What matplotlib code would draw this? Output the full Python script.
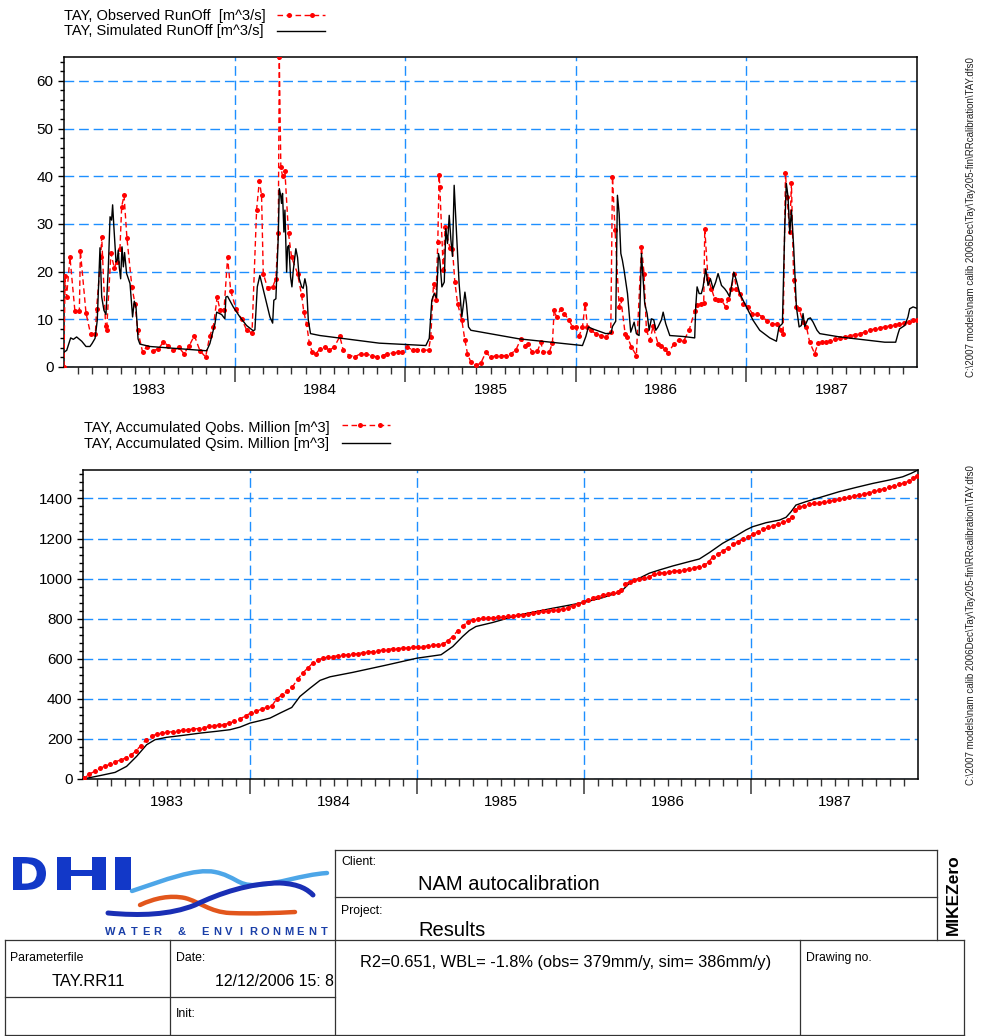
import numpy as np
import matplotlib
matplotlib.use('Agg')
import matplotlib.pyplot as plt
from matplotlib.ticker import FixedLocator, MultipleLocator, NullFormatter
from matplotlib.textpath import TextPath
from matplotlib.patches import PathPatch
from matplotlib.font_manager import FontProperties
from matplotlib.path import Path
from matplotlib.transforms import Affine2D, ScaledTranslation

plt.rcParams['font.family'] = ['Liberation Sans', 'DejaVu Sans']

# =============================================
# 1. Data (decimal years)
# =============================================
years = [1983, 1984, 1985, 1986, 1987]

# observed runoff [m^3/s]
obs_t = [1983.000, 1983.006, 1983.015, 1983.035, 1983.064, 1983.090, 1983.096, 1983.129, 1983.156, 1983.184,
         1983.191, 1983.215, 1983.221, 1983.244, 1983.250, 1983.275, 1983.295, 1983.309, 1983.328, 1983.338,
         1983.352, 1983.369, 1983.398, 1983.416, 1983.432, 1983.461, 1983.484, 1983.520, 1983.553, 1983.582,
         1983.611, 1983.641, 1983.674, 1983.703, 1983.732, 1983.764, 1983.797, 1983.830, 1983.855, 1983.875,
         1983.898, 1983.914, 1983.938, 1983.959, 1983.977, 1984.008, 1984.041, 1984.070, 1984.102, 1984.129,
         1984.145, 1984.158, 1984.168, 1984.193, 1984.223, 1984.242, 1984.256, 1984.262, 1984.271, 1984.281,
         1984.295, 1984.316, 1984.334, 1984.369, 1984.393, 1984.406, 1984.422, 1984.438, 1984.455, 1984.477,
         1984.500, 1984.529, 1984.555, 1984.584, 1984.617, 1984.637, 1984.672, 1984.707, 1984.740, 1984.770,
         1984.805, 1984.834, 1984.867, 1984.896, 1984.926, 1984.955, 1984.984, 1985.008, 1985.043, 1985.072,
         1985.102, 1985.137, 1985.150, 1985.166, 1985.180, 1985.191, 1985.199, 1985.203, 1985.223, 1985.234,
         1985.262, 1985.277, 1985.291, 1985.307, 1985.332, 1985.350, 1985.365, 1985.385, 1985.414, 1985.443,
         1985.473, 1985.502, 1985.531, 1985.561, 1985.590, 1985.619, 1985.648, 1985.678, 1985.703, 1985.717,
         1985.746, 1985.775, 1985.795, 1985.809, 1985.844, 1985.863, 1985.873, 1985.887, 1985.912, 1985.932,
         1985.961, 1985.980, 1986.000, 1986.020, 1986.039, 1986.055, 1986.068, 1986.088, 1986.117, 1986.146,
         1986.176, 1986.205, 1986.215, 1986.230, 1986.254, 1986.264, 1986.289, 1986.303, 1986.326, 1986.355,
         1986.385, 1986.400, 1986.414, 1986.434, 1986.453, 1986.482, 1986.502, 1986.521, 1986.541, 1986.574,
         1986.605, 1986.633, 1986.664, 1986.697, 1986.711, 1986.736, 1986.750, 1986.756, 1986.775, 1986.795,
         1986.814, 1986.834, 1986.854, 1986.879, 1986.893, 1986.912, 1986.928, 1986.941, 1986.961, 1986.980,
         1987.010, 1987.035, 1987.063, 1987.094, 1987.123, 1987.152, 1987.182, 1987.205, 1987.215, 1987.229,
         1987.238, 1987.254, 1987.264, 1987.277, 1987.293, 1987.309, 1987.332, 1987.352, 1987.371, 1987.400,
         1987.420, 1987.445, 1987.465, 1987.492, 1987.521, 1987.547, 1987.580, 1987.605, 1987.635, 1987.664,
         1987.693, 1987.723, 1987.752, 1987.781, 1987.811, 1987.840, 1987.869, 1987.895, 1987.922, 1987.953,
         1987.977, 1988.000]
obs_q = [0.0, 19.0, 14.7, 23.0, 11.7, 11.7, 24.3, 11.3, 6.9, 6.9,
         12.2, 23.0, 27.3, 8.5, 7.8, 23.8, 20.8, 22.0, 24.8, 33.6,
         36.0, 27.0, 16.8, 13.3, 7.7, 3.1, 4.2, 3.4, 3.8, 5.2,
         4.5, 3.5, 4.1, 2.8, 4.3, 6.6, 3.4, 2.1, 6.6, 8.4,
         14.7, 12.0, 12.0, 23.0, 16.0, 12.2, 10.1, 7.8, 7.1, 33.0,
         39.0, 36.0, 19.6, 16.6, 16.8, 18.5, 28.0, 65.0, 42.0, 40.0,
         41.0, 28.0, 23.0, 19.6, 15.0, 11.5, 9.0, 5.0, 3.1, 2.8,
         3.8, 4.2, 3.5, 4.2, 6.4, 3.5, 2.4, 2.2, 2.8, 2.7,
         2.4, 2.1, 2.4, 2.8, 2.9, 3.1, 3.1, 4.2, 3.6, 3.6,
         3.6, 3.5, 6.3, 17.5, 14.0, 26.2, 40.2, 37.8, 20.3, 29.4,
         25.0, 24.8, 17.8, 13.3, 9.8, 5.6, 2.8, 1.0, 0.35, 0.8,
         3.1, 2.0, 2.4, 2.4, 2.4, 2.8, 3.5, 5.9, 4.5, 4.8,
         3.1, 3.3, 5.2, 3.1, 3.1, 5.0, 11.9, 10.5, 12.2, 11.2,
         9.8, 8.4, 8.3, 6.6, 8.4, 13.3, 8.4, 7.7, 7.0, 6.6,
         6.3, 7.3, 39.9, 28.7, 12.6, 14.3, 7.0, 6.3, 4.2, 2.4,
         25.2, 19.6, 7.7, 5.6, 8.5, 4.9, 4.5, 3.8, 2.9, 4.8,
         5.7, 5.5, 7.7, 11.7, 12.9, 13.3, 13.5, 29.0, 18.5, 16.4,
         14.3, 14.0, 14.0, 12.6, 14.3, 16.4, 19.6, 16.4, 15.4, 13.3,
         12.6, 11.2, 11.2, 10.5, 9.6, 9.0, 9.0, 7.7, 7.0, 40.6,
         35.7, 28.3, 38.5, 18.2, 12.6, 12.2, 9.4, 8.4, 5.2, 2.8,
         5.0, 5.2, 5.2, 5.5, 5.8, 6.0, 6.3, 6.5, 6.8, 7.0,
         7.3, 7.7, 8.0, 8.2, 8.4, 8.6, 8.8, 9.0, 9.2, 9.4,
         9.8, 9.8]

# simulated runoff [m^3/s]
sim_t = [1983.000, 1983.016, 1983.039, 1983.055, 1983.074, 1983.104, 1983.129, 1983.152, 1983.164, 1983.182,
         1983.195, 1983.211, 1983.221, 1983.234, 1983.246, 1983.260, 1983.270, 1983.279, 1983.285, 1983.293,
         1983.305, 1983.312, 1983.318, 1983.324, 1983.332, 1983.340, 1983.348, 1983.355, 1983.367, 1983.387,
         1983.402, 1983.412, 1983.422, 1983.434, 1983.445, 1983.504, 1983.836, 1983.855, 1983.885, 1983.895,
         1983.924, 1983.943, 1983.949, 1983.959, 1983.992, 1984.031, 1984.070, 1984.109, 1984.119, 1984.133,
         1984.148, 1984.164, 1984.188, 1984.207, 1984.223, 1984.230, 1984.242, 1984.256, 1984.262, 1984.270,
         1984.275, 1984.281, 1984.289, 1984.295, 1984.305, 1984.311, 1984.318, 1984.328, 1984.336, 1984.344,
         1984.359, 1984.369, 1984.379, 1984.393, 1984.402, 1984.412, 1984.422, 1984.432, 1984.445, 1984.500,
         1984.848, 1985.121, 1985.141, 1985.156, 1985.170, 1985.184, 1985.195, 1985.203, 1985.215, 1985.229,
         1985.238, 1985.248, 1985.258, 1985.268, 1985.277, 1985.287, 1985.301, 1985.316, 1985.332, 1985.350,
         1985.359, 1985.371, 1985.385, 1985.668, 1986.039, 1986.059, 1986.074, 1986.098, 1986.176, 1986.207,
         1986.215, 1986.234, 1986.244, 1986.254, 1986.264, 1986.273, 1986.283, 1986.303, 1986.322, 1986.342,
         1986.355, 1986.371, 1986.385, 1986.404, 1986.418, 1986.430, 1986.443, 1986.457, 1986.469, 1986.482,
         1986.502, 1986.512, 1986.527, 1986.551, 1986.629, 1986.697, 1986.703, 1986.711, 1986.723, 1986.736,
         1986.746, 1986.762, 1986.775, 1986.789, 1986.805, 1986.820, 1986.834, 1986.854, 1986.873, 1986.887,
         1986.902, 1986.926, 1986.941, 1986.961, 1987.000, 1987.039, 1987.078, 1987.137, 1987.176, 1987.191,
         1987.211, 1987.225, 1987.234, 1987.244, 1987.254, 1987.264, 1987.277, 1987.293, 1987.309, 1987.322,
         1987.332, 1987.342, 1987.361, 1987.375, 1987.391, 1987.414, 1987.430, 1987.547, 1987.811, 1987.875,
         1987.889, 1987.898, 1987.928, 1987.947, 1987.957, 1987.977, 1988.000]
sim_q = [3.1, 3.5, 6.1, 5.8, 6.3, 5.4, 4.3, 4.3, 4.9, 6.0,
         9.8, 25.0, 14.7, 11.9, 11.0, 21.0, 31.5, 30.8, 34.0, 29.0,
         22.0, 22.4, 24.5, 21.0, 18.5, 25.2, 21.0, 24.0, 19.6, 17.5,
         10.5, 13.8, 12.6, 5.9, 4.8, 4.3, 3.4, 4.9, 9.1, 11.5,
         11.0, 10.1, 14.7, 14.8, 12.6, 10.5, 8.7, 7.6, 7.8, 16.8,
         19.2, 16.8, 13.3, 10.5, 9.2, 14.0, 14.3, 27.3, 37.4, 36.0,
         34.3, 36.4, 28.3, 32.9, 19.9, 25.2, 25.5, 18.9, 16.8, 20.3,
         24.8, 23.0, 18.5, 16.8, 16.5, 18.5, 16.8, 9.8, 7.0, 6.6,
         5.0, 4.5, 6.0, 14.0, 15.4, 14.5, 23.8, 22.4, 16.8, 17.8,
         29.0, 25.9, 31.8, 26.6, 23.2, 38.1, 27.9, 17.5, 10.5, 15.7,
         13.3, 8.4, 7.7, 5.9, 4.5, 6.4, 8.4, 8.0, 7.0, 7.1,
         8.5, 9.6, 36.0, 32.2, 23.8, 22.4, 20.3, 15.4, 7.3, 9.4,
         7.0, 6.6, 23.8, 13.3, 11.2, 7.7, 10.1, 9.9, 7.7, 8.4,
         9.9, 11.5, 9.1, 6.6, 6.4, 6.1, 12.6, 16.8, 15.4, 15.4,
         16.8, 20.6, 17.1, 18.5, 16.4, 17.8, 19.6, 17.1, 16.4, 15.7,
         14.7, 19.9, 18.2, 15.4, 12.6, 9.8, 7.7, 6.1, 5.4, 8.4,
         9.1, 29.4, 38.5, 35.7, 28.0, 32.9, 25.2, 12.6, 8.4, 8.7,
         11.2, 8.5, 10.1, 10.3, 9.4, 7.7, 7.0, 6.3, 5.2, 5.2,
         7.0, 8.0, 8.7, 10.5, 12.2, 12.6, 12.3]

# accumulated observed volume [million m^3]
acc_obs_t = [1983.000, 1983.008, 1983.038, 1983.070, 1983.102, 1983.134, 1983.162, 1983.194, 1983.226, 1983.257,
             1983.287, 1983.315, 1983.345, 1983.375, 1983.411, 1983.441, 1983.473, 1983.505, 1983.537, 1983.567,
             1983.597, 1983.631, 1983.661, 1983.693, 1983.725, 1983.756, 1983.786, 1983.816, 1983.844, 1983.876,
             1983.906, 1983.940, 1983.974, 1984.004, 1984.036, 1984.070, 1984.100, 1984.130, 1984.160, 1984.190,
             1984.224, 1984.253, 1984.285, 1984.315, 1984.345, 1984.375, 1984.409, 1984.435, 1984.465, 1984.495,
             1984.525, 1984.555, 1984.585, 1984.615, 1984.645, 1984.675, 1984.705, 1984.735, 1984.764, 1984.794,
             1984.824, 1984.854, 1984.884, 1984.914, 1984.944, 1984.974, 1985.004, 1985.034, 1985.064, 1985.094,
             1985.124, 1985.154, 1985.184, 1985.214, 1985.244, 1985.273, 1985.303, 1985.333, 1985.363, 1985.393,
             1985.423, 1985.453, 1985.483, 1985.513, 1985.543, 1985.573, 1985.603, 1985.633, 1985.663, 1985.693,
             1985.723, 1985.753, 1985.782, 1985.812, 1985.842, 1985.872, 1985.902, 1985.932, 1985.962, 1985.992,
             1986.022, 1986.052, 1986.082, 1986.112, 1986.142, 1986.172, 1986.202, 1986.222, 1986.248, 1986.275,
             1986.301, 1986.331, 1986.361, 1986.391, 1986.421, 1986.451, 1986.481, 1986.511, 1986.541, 1986.571,
             1986.601, 1986.631, 1986.661, 1986.691, 1986.721, 1986.747, 1986.774, 1986.804, 1986.834, 1986.864,
             1986.894, 1986.924, 1986.954, 1986.984, 1987.014, 1987.044, 1987.074, 1987.104, 1987.134, 1987.164,
             1987.194, 1987.224, 1987.246, 1987.265, 1987.289, 1987.319, 1987.349, 1987.379, 1987.409, 1987.439,
             1987.469, 1987.499, 1987.529, 1987.559, 1987.589, 1987.619, 1987.649, 1987.679, 1987.709, 1987.739,
             1987.768, 1987.798, 1987.828, 1987.858, 1987.888, 1987.918, 1987.948, 1987.972, 1987.992]
acc_obs_v = [0, 3, 25, 38, 55, 63, 75, 85, 96, 105,
             120, 138, 166, 193, 213, 224, 229, 233, 236, 239,
             243, 246, 249, 252, 257, 262, 266, 269, 271, 279,
             287, 299, 316, 329, 337, 349, 357, 365, 399, 420,
             437, 458, 498, 528, 553, 578, 595, 603, 608, 611,
             615, 618, 620, 623, 626, 630, 633, 636, 640, 643,
             646, 650, 651, 653, 654, 658, 659, 661, 664, 668,
             669, 673, 689, 711, 741, 764, 782, 794, 799, 801,
             802, 804, 806, 807, 811, 814, 817, 819, 821, 826,
             831, 836, 839, 842, 844, 849, 855, 864, 874, 884,
             894, 904, 910, 917, 924, 929, 935, 943, 973, 985,
             993, 997, 1002, 1010, 1022, 1027, 1030, 1033, 1037, 1040,
             1043, 1048, 1055, 1060, 1066, 1085, 1110, 1123, 1140, 1154,
             1171, 1184, 1196, 1206, 1223, 1234, 1246, 1256, 1264, 1272,
             1281, 1292, 1309, 1342, 1355, 1364, 1370, 1375, 1379, 1382,
             1385, 1390, 1395, 1400, 1405, 1412, 1417, 1422, 1429, 1435,
             1442, 1449, 1455, 1462, 1470, 1478, 1487, 1500, 1512]

# accumulated simulated volume [million m^3]
acc_sim_t = [1983.000, 1983.102, 1983.192, 1983.261, 1983.321, 1983.381, 1983.431, 1983.501, 1983.601, 1983.701,
             1983.800, 1983.880, 1983.940, 1984.000, 1984.060, 1984.120, 1984.180, 1984.250, 1984.299, 1984.359,
             1984.419, 1984.479, 1984.615, 1984.814, 1985.000, 1985.144, 1985.214, 1985.273, 1985.313, 1985.353,
             1985.453, 1985.613, 1985.812, 1985.992, 1986.112, 1986.222, 1986.242, 1986.282, 1986.331, 1986.391,
             1986.451, 1986.531, 1986.631, 1986.691, 1986.751, 1986.830, 1986.910, 1986.970, 1987.010, 1987.090,
             1987.170, 1987.210, 1987.240, 1987.269, 1987.329, 1987.429, 1987.529, 1987.629, 1987.729, 1987.828,
             1987.908, 1987.958, 1988.000]
acc_sim_v = [0, 17, 33, 63, 113, 171, 196, 208, 218, 229,
             238, 246, 259, 279, 291, 304, 329, 357, 412, 453,
             492, 510, 532, 568, 603, 620, 661, 711, 741, 761,
             781, 819, 852, 880, 905, 935, 952, 985, 1002, 1027,
             1043, 1063, 1085, 1098, 1130, 1176, 1213, 1243, 1259, 1279,
             1292, 1306, 1334, 1367, 1384, 1409, 1434, 1455, 1475, 1492,
             1508, 1525, 1542]

path_text = r"C:\2007 models\nam calib 2006Dec\Tay\Tay205-fin\RRcalibration\TAY.dfs0"
stats_text = "R2=0.651, WBL= -1.8% (obs= 379mm/y, sim= 386mm/y)"

# =============================================
# 2. Figure + pixel overlay
# =============================================
W, H = 985, 1036
fig = plt.figure(figsize=(W / 100, H / 100), dpi=100)

ov = fig.add_axes([0, 0, 1, 1])
ov.set_xlim(0, W)
ov.set_ylim(H, 0)
ov.axis('off')


def px_axes(l, t, r, b):
    return fig.add_axes([l / W, 1 - b / H, (r - l) / W, (b - t) / H])


GRID = '#1E8FFF'
RED_LS = (0, (4, 2.5))
months = [1983 + k / 12 for k in range(61) if k % 12 != 0]


def style_axes(ax, ymax, ymajor, yminor):
    ax.set_xlim(1983, 1988)
    ax.set_ylim(0, ymax)
    ax.xaxis.set_major_locator(FixedLocator(years[1:]))
    ax.xaxis.set_minor_locator(FixedLocator(months))
    ax.xaxis.set_major_formatter(NullFormatter())
    ax.yaxis.set_major_locator(MultipleLocator(ymajor))
    ax.yaxis.set_minor_locator(MultipleLocator(yminor))
    ax.tick_params(axis='x', which='major', direction='out', length=11, width=1.3, color='#555555')
    ax.tick_params(axis='x', which='minor', direction='out', length=5, width=1.0, color='#333333')
    ax.tick_params(axis='y', which='major', direction='out', length=4.5, width=1.0, labelsize=11, pad=3)
    ax.tick_params(axis='y', which='minor', direction='out', length=3, width=1.0)
    ax.grid(True, which='major', color=GRID, linestyle=(0, (7, 3.5)), linewidth=1.0)
    for s in ax.spines.values():
        s.set_linewidth(1.1)
    lab_tr = ax.get_xaxis_transform() + ScaledTranslation(0, -27 / 100, fig.dpi_scale_trans)
    for yr in years:
        ax.text(yr + 0.5, 0, str(yr), transform=lab_tr, ha='center', va='baseline', fontsize=11)


# =============================================
# 3. Runoff plot
# =============================================
ax1 = px_axes(64, 57, 917, 367)
style_axes(ax1, 65, 10, 2)
ax1.plot(obs_t, obs_q, color='red', lw=1.0, ls=RED_LS, marker='o', ms=3.6, mew=0, zorder=3)
ax1.plot(sim_t, sim_q, color='black', lw=1.0, zorder=4)

LEG_FS = 10.5
ov.text(64, 20, 'TAY, Observed RunOff  [m^3/s]', fontsize=LEG_FS, va='baseline')
ov.text(64, 35.5, 'TAY, Simulated RunOff [m^3/s]', fontsize=LEG_FS, va='baseline')
ov.plot([277, 325], [15, 15], color='red', lw=1.0, ls=RED_LS)
ov.plot([289, 312], [15, 15], ls='none', marker='o', ms=3.6, mew=0, color='red')
ov.plot([277, 325], [31, 31], color='black', lw=1.0)

# =============================================
# 4. Accumulated volume plot
# =============================================
ax2 = px_axes(83, 470, 918, 779)
style_axes(ax2, max(acc_sim_v), 200, 40)
ax2.plot(acc_sim_t, acc_sim_v, color='black', lw=1.0, zorder=3)
ax2.plot(acc_obs_t, acc_obs_v, color='red', lw=1.0, ls=RED_LS, marker='o', ms=3.6, mew=0, zorder=4)

ov.text(84, 432, 'TAY, Accumulated Qobs. Million [m^3]', fontsize=LEG_FS, va='baseline')
ov.text(84, 448, 'TAY, Accumulated Qsim. Million [m^3]', fontsize=LEG_FS, va='baseline')
ov.plot([342, 390], [425, 425], color='red', lw=1.0, ls=RED_LS)
ov.plot([360, 380], [425, 425], ls='none', marker='o', ms=3.6, mew=0, color='red')
ov.plot([342, 390], [443, 443], color='black', lw=1.0)

# file path labels on the right
ov.text(971, 217, path_text, rotation=90, fontsize=7.0, ha='center', va='center', color='#222222')
ov.text(971, 625, path_text, rotation=90, fontsize=7.0, ha='center', va='center', color='#222222')

# =============================================
# 5. Title block
# =============================================
LC = '#333333'
def hline(x0, x1, y):
    ov.plot([x0, x1], [y, y], color=LC, lw=0.9)


def vline(x, y0, y1):
    ov.plot([x, x], [y0, y1], color=LC, lw=0.9)


# client / project box
hline(335, 937, 850)
hline(335, 937, 897)
vline(335, 850, 940)
vline(937, 850, 940)
# lower table
hline(5, 964, 940)
hline(5, 335, 997)
hline(5, 964, 1035)
for x in [5, 170, 335, 800, 964]:
    vline(x, 940, 1035)

small = 8.8
ov.text(341, 865, 'Client:', fontsize=small, va='baseline')
ov.text(418, 890, 'NAM autocalibration', fontsize=14.5, va='baseline')
ov.text(341, 914, 'Project:', fontsize=small, va='baseline')
ov.text(418, 936, 'Results', fontsize=14.5, va='baseline')
ov.text(10, 961, 'Parameterfile', fontsize=small, va='baseline')
ov.text(88, 986, 'TAY.RR11', fontsize=12, va='baseline', ha='center')
ov.text(176, 961, 'Date:', fontsize=small, va='baseline')
ov.text(334, 986, '12/12/2006 15: 8', fontsize=11.4, va='baseline', ha='right')
ov.text(176, 1017, 'Init:', fontsize=small, va='baseline')
ov.text(360, 967, stats_text, fontsize=11.8, va='baseline')
ov.text(806, 961, 'Drawing no.', fontsize=small, va='baseline')

# MIKE Zero mark
ov.text(953, 895, 'MIKEZero', rotation=90, fontsize=12.5, fontweight='bold', ha='center', va='center')

# DHI logo, one letter per box
logo_fp = FontProperties(family='DejaVu Sans', weight='bold')
for ch, x0, x1 in [('D', 13, 46), ('H', 57, 106), ('I', 115, 131)]:
    tp = TextPath((0, 0), ch, size=1, prop=logo_fp)
    bb = tp.get_extents()
    tr = Affine2D().translate(-bb.x0, -bb.y0).scale((x1 - x0) / bb.width, -(890 - 857) / bb.height)
    tr = tr.translate(x0, 890)
    ov.add_patch(PathPatch(tr.transform_path(tp), facecolor='#1238C8', edgecolor='none'))

C4 = Path.CURVE4
waves = [
    ('#4DA6E8', 3.2, [(132, 891), (165, 880), (195, 868), (215, 872), (235, 876), (238, 886), (255, 885),
                      (280, 884), (300, 875), (327, 873)]),
    ('#E2561C', 3.2, [(140, 905), (155, 898), (170, 895), (185, 898), (200, 902), (210, 912), (230, 913),
                      (255, 914), (275, 913), (295, 912)]),
    ('#1A2FB5', 3.6, [(108, 913), (140, 916), (170, 915), (195, 905), (220, 893), (250, 883), (280, 883),
                      (300, 884), (308, 890), (313, 895)]),
]
for col, lw, pts in waves:
    codes = [Path.MOVETO] + [C4] * (len(pts) - 1)
    ov.add_patch(PathPatch(Path(pts, codes), facecolor='none', edgecolor=col, lw=lw, capstyle='round'))

for i, ch in enumerate('WATER & ENVIRONMENT'):
    ov.text(110 + i * 11.9, 935, ch, fontsize=8, fontweight='bold', color='#1A3FA8',
            ha='center', va='baseline')

plt.savefig('out.png', dpi=100)
